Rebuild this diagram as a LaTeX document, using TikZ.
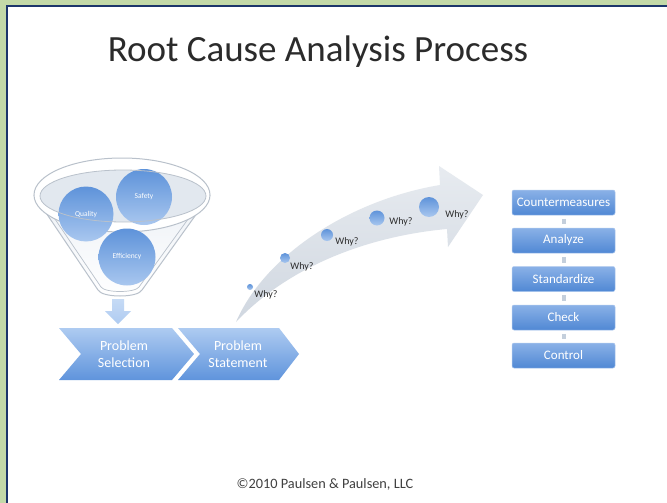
\documentclass[tikz,border=0pt]{standalone}
\usepackage{fontspec}
\setmainfont{Carlito}
\begin{document}
\definecolor{framegreen}{HTML}{C3D9A8}
\definecolor{framenavy}{HTML}{1C356B}
\definecolor{titlegray}{HTML}{2B2B2B}
\definecolor{funnelline}{HTML}{B9C1CB}
\definecolor{funnelfill}{HTML}{EDF1F6}
\definecolor{rimfill}{HTML}{E2E8EF}
\definecolor{blueTop}{HTML}{5E93DA}
\definecolor{blueBot}{HTML}{A9C7EF}
\definecolor{chevTop}{HTML}{AECBF1}
\definecolor{chevBot}{HTML}{5F94DC}
\definecolor{boxTop}{HTML}{8AB1E7}
\definecolor{boxBot}{HTML}{5088D4}
\definecolor{arrowTop}{HTML}{E7EBF0}
\definecolor{arrowBot}{HTML}{D0D7E0}
\definecolor{linkgray}{HTML}{C4CFDC}
\begin{tikzpicture}[x=1pt,y=-1pt,
  ball/.style={circle, inner sep=0pt, top color=blueTop, bottom color=blueBot,
    text=white, font=\fontsize{7.5}{9}\selectfont},
  dot/.style={circle, inner sep=0pt, top color=blueTop, bottom color=blueBot},
  whylabel/.style={text=titlegray, font=\fontsize{10}{11}\selectfont, inner sep=0pt},
  chevron/.style={top color=chevTop, bottom color=chevBot},
  chevtext/.style={text=white, align=center, font=\fontsize{14}{17}\selectfont, inner sep=0pt},
  stepbox/.style={rounded corners=2pt, minimum width=103pt, minimum height=25pt,
    top color=boxTop, bottom color=boxBot, draw=boxTop!70!white, line width=0.5pt,
    text=white, font=\fontsize{13}{14}\selectfont, inner sep=0pt},
  link/.style={draw=linkgray, line width=4pt, shorten >=3.5pt, shorten <=3.5pt}]
\useasboundingbox (0,0) rectangle (667,503);

% frame
\fill[framegreen] (0,0) rectangle (667,503);
\fill[white] (6,5) rectangle (667,503);
\fill[framenavy] (6,5) rectangle (667,7.3);
\fill[framenavy] (6,5) rectangle (8.3,503);

% title
\node[text=titlegray, font=\fontsize{37}{41}\selectfont, inner sep=0pt] (title) at (318,52) {Root Cause Analysis Process};

% funnel body
\path[top color=funnelfill, bottom color=white] (34,195) -- (98,290) .. controls (102,298) and (138,298) .. (142,290) -- (210,195) -- cycle;
\draw[funnelline, line width=1pt] (34,195) -- (98,290) .. controls (102,298) and (138,298) .. (142,290) -- (210,195);
\draw[funnelline, line width=0.7pt] (40,197) -- (101,287) .. controls (105,293) and (135,293) .. (139,287) -- (204,197);
\filldraw[fill=white, draw=funnelline, line width=1pt] (122,195) ellipse (88 and 37);
\fill[rimfill] (123,196) ellipse (83 and 26);

% items poured into the funnel
\node[ball, minimum size=55pt] (quality) at (86,214) {Quality};
\node[ball, minimum size=56pt] (safety) at (144,197) {Safety};
\node[ball, minimum size=57pt] (efficiency) at (127,257) {Efficiency};
\draw[funnelline, line width=0.8pt] (123,196) ellipse (83 and 26);

% down arrow into the first step
\path[top color=chevTop!70!white, bottom color=chevTop] (112,299) -- (124,299) -- (124,311) -- (131,311) -- (118,324) -- (105,311) -- (112,311) -- cycle;

% problem chevrons
\path[chevron] (59,328) -- (172,328) -- (194,354) -- (172,380) -- (59,380) -- (81,354) -- cycle;
\path[chevron] (178,328) -- (279,328) -- (299,354) -- (279,380) -- (178,380) -- (200,354) -- cycle;
\node[chevtext] (selection) at (124,354) {Problem\\Selection};
\node[chevtext] (statement) at (238,354) {Problem\\Statement};

% curved arrow of repeated questions
\path[top color=arrowTop, bottom color=arrowBot] (236,322) .. controls (265,255) and (350,200) .. (440,185) -- (439,166) -- (483,195) -- (448,247) -- (447,229) .. controls (370,236) and (290,265) .. (236,322) -- cycle;

\node[dot, minimum size=6pt] (w1) at (250,287) {};
\node[dot, minimum size=10pt] (w2) at (285,258) {};
\node[dot, minimum size=12pt] (w3) at (327,235) {};
\node[dot, minimum size=15pt] (w4) at (377,218) {};
\node[dot, minimum size=20pt] (w5) at (429,207) {};
\node[whylabel] (q1) at (266,295) {Why?};
\node[whylabel] (q2) at (302,267) {Why?};
\node[whylabel] (q3) at (347,242) {Why?};
\node[whylabel] (q4) at (401,222) {Why?};
\node[whylabel] (q5) at (457,215) {Why?};

% countermeasure steps
\node[stepbox] (b1) at (563.5,202.5) {Countermeasures};
\node[stepbox] (b2) at (563.5,240.5) {Analyze};
\node[stepbox] (b3) at (563.5,279) {Standardize};
\node[stepbox] (b4) at (563.5,317.5) {Check};
\node[stepbox] (b5) at (563.5,355.5) {Control};
\draw[link] (b1) -- (b2);
\draw[link] (b2) -- (b3);
\draw[link] (b3) -- (b4);
\draw[link] (b4) -- (b5);

% footer
\node[text=titlegray!90!white, font=\fontsize{14.3}{16}\selectfont, inner sep=0pt] (copyright) at (325,484) {\textcopyright2010 Paulsen \& Paulsen, LLC};
\end{tikzpicture}
\end{document}
